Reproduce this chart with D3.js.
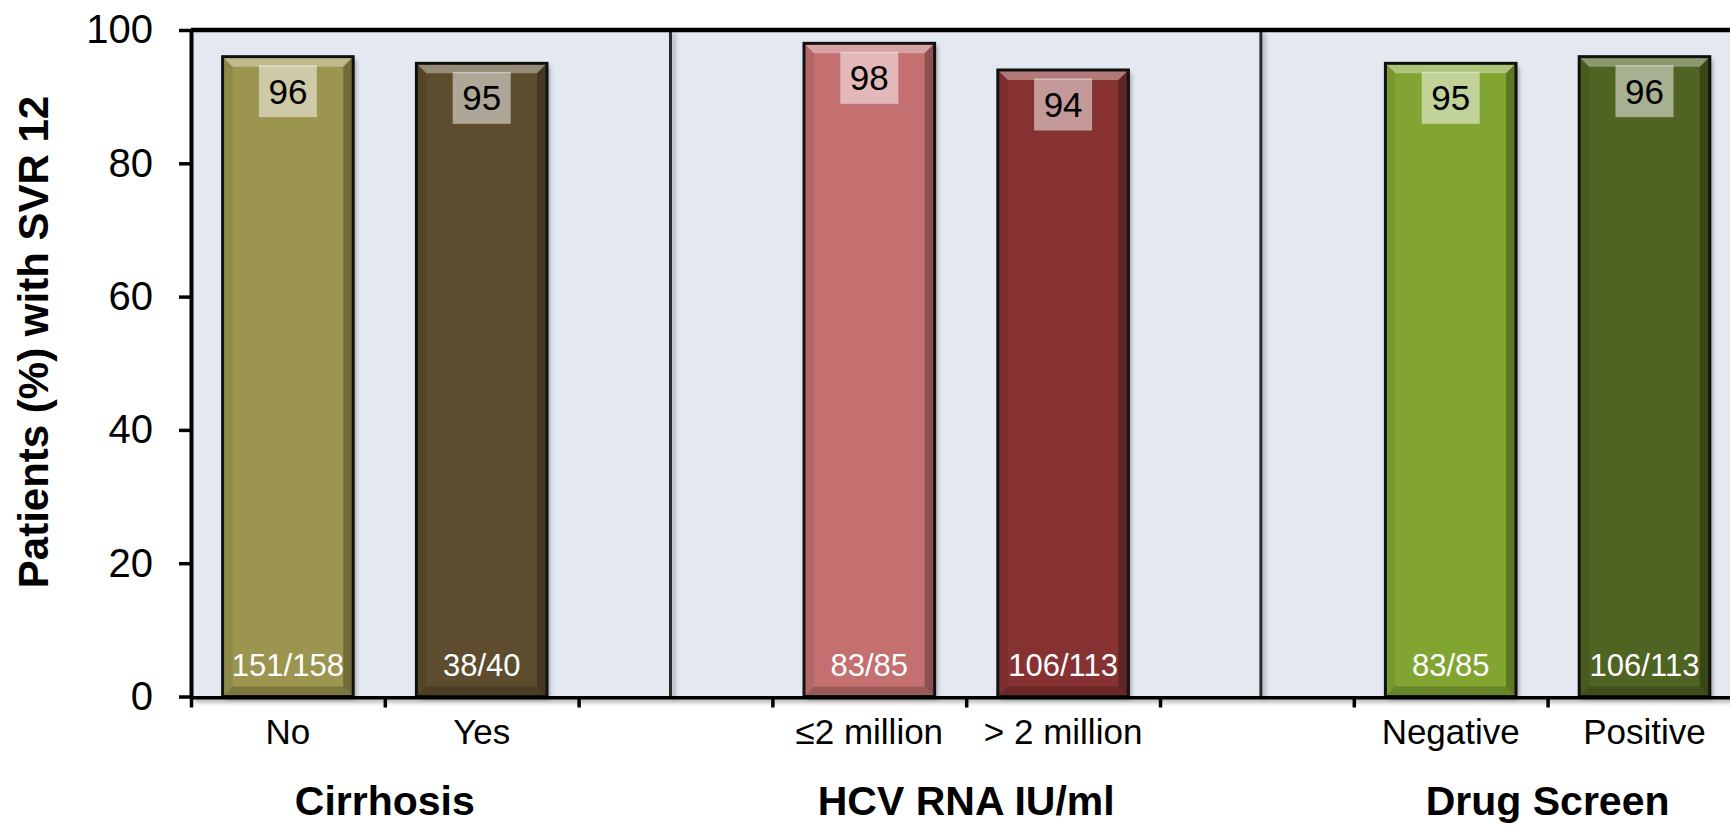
<!DOCTYPE html>
<html lang="en">
<head>
  <meta charset="UTF-8">
  <title>SVR 12 by subgroup</title>
  <script src="https://d3js.org/d3.v7.min.js"></script>
</head>
<body style="margin: 0; background: white; overflow: hidden;">
  <div id="chart"></div>
  <script>
// data
const groups = ["Cirrhosis", "HCV RNA IU/ml", "Drug Screen"];
const categories = ["No", "Yes", "≤2 million", "> 2 million", "Negative", "Positive"];
const groupIndex = [0, 0, 1, 1, 2, 2];
const svr = [96, 95, 98, 94, 95, 96];
const responders = ["151/158", "38/40", "83/85", "106/113", "83/85", "106/113"];
const yTicks = [0, 20, 40, 60, 80, 100];

// one colour per bar
const barColors = ["#9c9550", "#5d4e2f", "#c46f70", "#873032", "#82a532", "#4f6320"];

const W = 1730, H = 826;
const font = "Arial, 'Liberation Sans', sans-serif";
const plotLeft = 191, plotTop = 30, plotBottom = 696.5;
const step = 193.8;

// slots: the bars of each group, with an empty slot between groups
const slots = [];
groups.forEach((g, gi) => {
  categories.forEach((c, i) => { if (groupIndex[i] === gi) slots.push(c); });
  if (gi < groups.length - 1) slots.push("gap" + gi);
});

const x = d3.scaleBand().domain(slots).range([plotLeft, plotLeft + slots.length * step]);
const y = d3.scaleLinear().domain([0, 100]).range([plotBottom, plotTop]);
const barW = x.bandwidth() * 0.674;

const svg = d3.select("#chart").append("svg")
  .attr("width", W).attr("height", H)
  .style("display", "block");

// drop shadow; user space units so it also works on straight lines
const defs = svg.append("defs");
defs.append("filter").attr("id", "shadow")
  .attr("filterUnits", "userSpaceOnUse")
  .attr("x", 0).attr("y", 0).attr("width", W).attr("height", H)
  .append("feDropShadow")
  .attr("dx", 3).attr("dy", 3).attr("stdDeviation", 2)
  .attr("flood-color", "#000").attr("flood-opacity", 0.3);

// plot background
svg.append("rect")
  .attr("x", plotLeft).attr("y", plotTop)
  .attr("width", slots.length * step).attr("height", plotBottom - plotTop)
  .attr("fill", "#e4e9f1");

// separators between groups (nudged a little, as in the original slide)
const sepNudge = [-5, 4];
svg.selectAll("line.sep")
  .data(slots.filter(s => s.startsWith("gap")))
  .join("line")
  .attr("class", "sep")
  .attr("x1", (d, i) => x(d) + x.bandwidth() / 2 + sepNudge[i])
  .attr("x2", (d, i) => x(d) + x.bandwidth() / 2 + sepNudge[i])
  .attr("y1", plotTop).attr("y2", plotBottom)
  .attr("stroke", "#2a2a2a").attr("stroke-width", 3)
  .attr("filter", "url(#shadow)");

// bars
const bars = svg.selectAll("g.bar")
  .data(categories.map((c, i) => ({ c, v: svr[i], n: responders[i], color: barColors[i] })))
  .join("g")
  .attr("class", "bar");

bars.each(function(d) {
  const g = d3.select(this);
  const x0 = x(d.c) + (x.bandwidth() - barW) / 2;
  const y0 = y(d.v);
  const w = barW, h = y(0) - y0, b = 10;

  g.append("rect")
    .attr("x", x0).attr("y", y0).attr("width", w).attr("height", h)
    .attr("fill", d.color)
    .attr("filter", "url(#shadow)");

  // bevel faces
  const faces = [
    { p: [[x0, y0], [x0 + w, y0], [x0 + w - b, y0 + b], [x0 + b, y0 + b]], f: "#fff", o: 0.35 },
    { p: [[x0 + w, y0], [x0 + w, y0 + h], [x0 + w - b, y0 + h - b], [x0 + w - b, y0 + b]], f: "#000", o: 0.28 },
    { p: [[x0, y0 + h], [x0 + w, y0 + h], [x0 + w - b, y0 + h - b], [x0 + b, y0 + h - b]], f: "#000", o: 0.2 },
    { p: [[x0, y0], [x0, y0 + h], [x0 + b, y0 + h - b], [x0 + b, y0 + b]], f: "#000", o: 0.08 }
  ];
  g.selectAll("polygon").data(faces).join("polygon")
    .attr("points", f => f.p.map(q => q.join(",")).join(" "))
    .attr("fill", f => f.f).attr("fill-opacity", f => f.o);

  g.append("rect")
    .attr("x", x0).attr("y", y0).attr("width", w).attr("height", h)
    .attr("fill", "none").attr("stroke", "#111").attr("stroke-width", 3);

  // percentage box
  const cx = x0 + w / 2;
  g.append("rect")
    .attr("x", cx - 29).attr("y", y0 + 8.5).attr("width", 58).attr("height", 52)
    .attr("fill", "#fff").attr("fill-opacity", 0.5);
  g.append("text")
    .attr("x", cx).attr("y", y0 + 8.5 + 26 + 12.5)
    .attr("text-anchor", "middle")
    .attr("font-family", font).attr("font-size", 35)
    .attr("fill", "#000")
    .text(d.v);

  // n / N
  g.append("text")
    .attr("x", cx).attr("y", y(0) - 20.5)
    .attr("text-anchor", "middle")
    .attr("font-family", font).attr("font-size", 31)
    .attr("fill", "#fff")
    .text(d.n);
});

// top frame line
svg.append("line")
  .attr("x1", plotLeft).attr("x2", W).attr("y1", plotTop).attr("y2", plotTop)
  .attr("stroke", "#000").attr("stroke-width", 4.5);

// y axis
const yAxis = svg.append("g")
  .attr("transform", `translate(${plotLeft},0)`)
  .call(d3.axisLeft(y).tickValues(yTicks).tickSize(12).tickPadding(26).tickSizeOuter(0));
yAxis.select(".domain").attr("stroke", "#000").attr("stroke-width", 4);
yAxis.selectAll(".tick line").attr("stroke", "#000").attr("stroke-width", 3.5);
yAxis.selectAll(".tick text")
  .attr("font-family", font).attr("font-size", 40).attr("fill", "#000");

// x axis: ticks at every slot boundary
const xb = d3.scaleLinear().domain([0, slots.length]).range([plotLeft, plotLeft + slots.length * step]);
const xAxis = svg.append("g")
  .attr("transform", `translate(0,${plotBottom})`)
  .call(d3.axisBottom(xb).tickValues(d3.range(slots.length)).tickSize(11).tickFormat("").tickSizeOuter(0));
xAxis.select(".domain").attr("stroke", "#000").attr("stroke-width", 5).attr("filter", "url(#shadow)");
xAxis.selectAll(".tick line").attr("stroke", "#000").attr("stroke-width", 3.5);

// category labels
svg.selectAll("text.cat")
  .data(categories)
  .join("text")
  .attr("class", "cat")
  .attr("x", d => x(d) + x.bandwidth() / 2)
  .attr("y", 744)
  .attr("text-anchor", "middle")
  .attr("font-family", font).attr("font-size", 35)
  .text(d => d);

// group labels, centred on the boundary between their two bars
svg.selectAll("text.grp")
  .data(groups)
  .join("text")
  .attr("class", "grp")
  .attr("x", (g, gi) => x(categories[groupIndex.lastIndexOf(gi)]))
  .attr("y", 815)
  .attr("text-anchor", "middle")
  .attr("font-family", font).attr("font-size", 41).attr("font-weight", "bold")
  .text(d => d);

// y title
svg.append("text")
  .attr("transform", "translate(48,342) rotate(-90)")
  .attr("text-anchor", "middle")
  .attr("font-family", font).attr("font-size", 42).attr("font-weight", "bold")
  .text("Patients (%) with SVR 12");
  </script>
</body>
</html>
